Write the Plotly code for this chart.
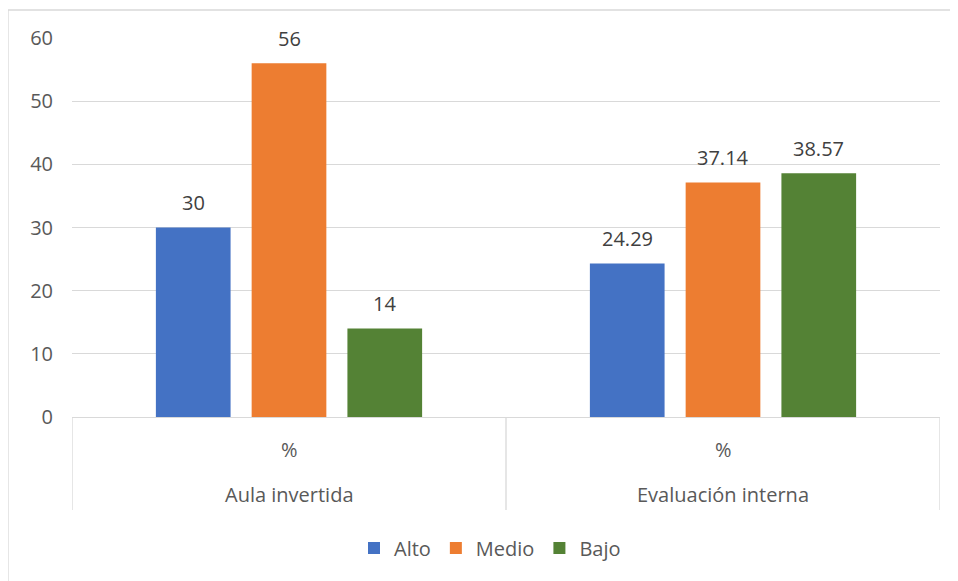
import plotly.graph_objects as go

groups = ["Aula invertida", "Evaluación interna"]
inner_label = "%"
series_names = ["Alto", "Medio", "Bajo"]
alto = [30, 24.29]
medio = [56, 37.14]
bajo = [14, 38.57]
colors = ["#4472C4", "#ED7D31", "#548235"]
y_ticks = [0, 10, 20, 30, 40, 50, 60]

# the page body adds an 8px margin, so figure coords = page coords - 8
OFF = 8
W, H = 958 - OFF, 581 - OFF
L, T = 72 - OFF, 38 - OFF
R = W - (940 - OFF)
B = H - (417 - OFF)
pw, ph = W - L - R, H - T - B

FONT = "Open Sans"
FS = 20
BARGAP = 0.338
fig = go.Figure()
all_series = [alto, medio, bajo]
for name, vals, col in zip(series_names, all_series, colors):
    fig.add_trace(go.Bar(
        name=name, x=groups, y=vals, marker=dict(color=col, line=dict(width=0)),
    ))

def py(page_y):
    return (T + ph - (page_y - OFF)) / ph

def px(page_x):
    return ((page_x - OFF) - L) / pw

shapes = []
shapes.append(dict(type="rect", xref="paper", yref="paper", x0=px(8), x1=px(970),
                   y0=py(600), y1=py(10), line=dict(color="#D9D9D9", width=1.3),
                   layer="below"))
for xv in [-0.5, 0.5, 1.5]:
    shapes.append(dict(type="line", xref="x", yref="paper", x0=xv, x1=xv,
                       y0=0, y1=py(510), line=dict(color="#D9D9D9", width=1.3)))

annotations = []
for g in groups:
    annotations.append(dict(x=g, xref="x", yref="paper", y=py(449), yanchor="middle",
                            text=inner_label, showarrow=False,
                            font=dict(family=FONT, size=FS, color="#595959")))
    annotations.append(dict(x=g, xref="x", yref="paper", y=py(494), yanchor="middle",
                            text=g, showarrow=False,
                            font=dict(family=FONT, size=FS, color="#595959")))

# data labels above each bar (bar slot width follows from bargap and series count)
slot = (1 - BARGAP) / len(all_series)
for j, vals in enumerate(all_series):
    for i, v in enumerate(vals):
        annotations.append(dict(x=i + (j - (len(all_series) - 1) / 2) * slot, xref="x",
                                y=v, yref="y", yanchor="middle", yshift=25,
                                text=f"{v:g}", showarrow=False,
                                font=dict(family=FONT, size=FS, color="#404040")))

fig.update_layout(
    width=W, height=H, margin=dict(l=L, r=R, t=T, b=B),
    paper_bgcolor="white", plot_bgcolor="white",
    barmode="group", bargap=BARGAP, bargroupgap=0.22,
    font=dict(family=FONT, size=FS, color="#595959"),
    showlegend=True,
    legend=dict(orientation="h", x=0.5 - 16 / pw, xanchor="center", y=py(548),
                yanchor="middle", font=dict(family=FONT, size=FS, color="#595959"),
                itemwidth=30, traceorder="normal"),
    shapes=shapes, annotations=annotations,
    xaxis=dict(showticklabels=False, showline=True, linecolor="#D9D9D9", linewidth=1.3,
               showgrid=False, ticks="", range=[-0.5, 1.5], fixedrange=True),
    yaxis=dict(range=[0, 60], tickvals=y_ticks, showgrid=True, gridcolor="#D9D9D9",
               gridwidth=1.3, zeroline=False, showline=False, ticks="",
               ticklabelstandoff=18, tickfont=dict(family=FONT, size=FS, color="#595959")),
)

fig.write_html("out.html")
